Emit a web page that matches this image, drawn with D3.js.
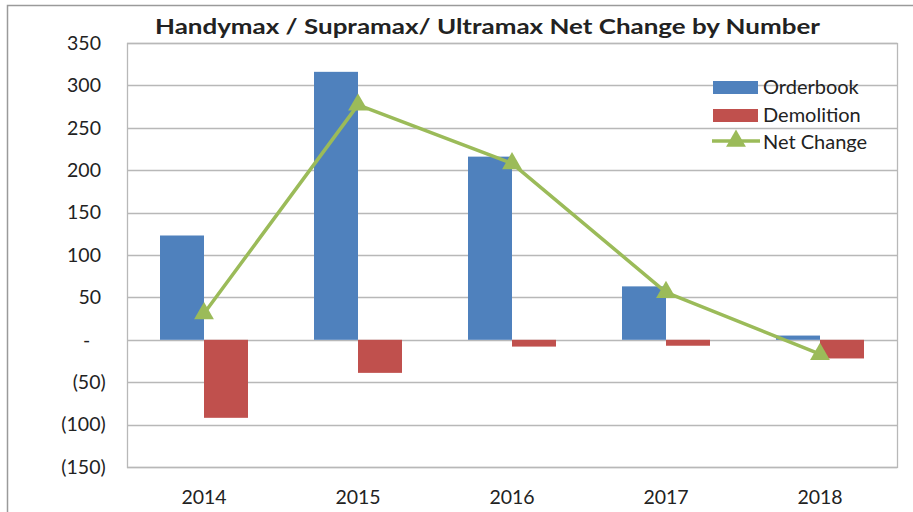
<!DOCTYPE html>
<html><head><meta charset="utf-8">
<script src="https://cdnjs.cloudflare.com/ajax/libs/d3/7.8.5/d3.min.js"></script>
<style>body{margin:0;background:#fff}svg{display:block}text{font-family:Lato,"Open Sans",sans-serif;fill:#222}</style>
</head><body><svg id="c" width="913" height="512"></svg>
<script>
const categories = ["2014","2015","2016","2017","2018"];
const orderbook = [123, 316, 216, 63, 5];
const demolition = [-92, -39, -8, -7, -22];
const netChange = [31, 277, 208, 56, -17];
const yTicks = [350,300,250,200,150,100,50,0,-50,-100,-150];
const seriesNames = ["Orderbook","Demolition","Net Change"];
const colors = {ob:"#4F81BD", dm:"#C0504D", nc:"#9BBB59"};

const svg = d3.select("#c");
const L=127, R=897, T=43, B=467;
// outer frame
svg.append("path").attr("d","M7.5,512 V5.5 H913").attr("fill","none").attr("stroke","#9a9a9a").attr("stroke-width",1.5);

const x = d3.scaleBand().domain(categories).range([L,R]);
const y = d3.scaleLinear().domain([-150,350]).range([B,T]);
const bw = 44;

// gridlines
svg.append("g").selectAll("line").data(yTicks).join("line")
  .attr("x1",L).attr("x2",R).attr("y1",d=>Math.round(y(d))+0.5).attr("y2",d=>Math.round(y(d))+0.5)
  .attr("stroke","#b8b8b8").attr("stroke-width",1.3);
// plot border
svg.append("rect").attr("x",L+0.5).attr("y",Math.round(T)+0.5).attr("width",R-L).attr("height",B-T)
  .attr("fill","none").attr("stroke","#b8b8b8").attr("stroke-width",1.3);

// y axis
const fmt = d => d===0 ? "-" : d<0 ? "("+(-d)+")" : String(d);
const ya = svg.append("g").attr("transform",`translate(${L},0)`)
  .call(d3.axisLeft(y).tickValues(yTicks).tickFormat(fmt).tickSize(0).tickPadding(26));
ya.select(".domain").remove();
ya.selectAll("text").style("font-size","19.5px").attr("fill","#222").style("font-family","Lato,sans-serif")
  .attr("dx", d=> d<0 ? "0.24em" : d===0 ? "-0.55em" : "0");

// x axis
const xa = svg.append("g").attr("transform",`translate(0,${B})`)
  .call(d3.axisBottom(x).tickSize(0).tickPadding(23));
xa.select(".domain").remove();
xa.selectAll("text").style("font-size","19.5px").attr("fill","#222").style("font-family","Lato,sans-serif");

// bars
const cx = c => x(c) + x.bandwidth()/2;
svg.append("g").selectAll("rect").data(categories).join("rect")
  .attr("x",(c)=>cx(c)-bw).attr("width",bw)
  .attr("y",(c,i)=>y(Math.max(0,orderbook[i]))).attr("height",(c,i)=>Math.abs(y(orderbook[i])-y(0)))
  .attr("fill",colors.ob);
svg.append("g").selectAll("rect").data(categories).join("rect")
  .attr("x",(c)=>cx(c)).attr("width",bw)
  .attr("y",(c,i)=>y(Math.max(0,demolition[i]))).attr("height",(c,i)=>Math.abs(y(demolition[i])-y(0)))
  .attr("fill",colors.dm);

// line
const line = d3.line().x((d,i)=>cx(categories[i])).y(d=>y(d));
svg.append("path").datum(netChange).attr("d",line).attr("fill","none")
  .attr("stroke",colors.nc).attr("stroke-width",3.5).attr("stroke-linejoin","round");
const tri = d3.symbol().type(d3.symbolTriangle).size(170);
svg.append("g").selectAll("path").data(netChange).join("path")
  .attr("d",tri).attr("transform",(d,i)=>`translate(${cx(categories[i])},${y(d)})`).attr("fill",colors.nc);

// title
svg.append("text").attr("x",487.5).attr("y",34).attr("text-anchor","middle")
  .attr("textLength",665).attr("lengthAdjust","spacingAndGlyphs")
  .style("font-size","21px").style("font-weight","bold").text("Handymax / Supramax/ Ultramax Net Change by Number");

// legend
const lg = svg.append("g");
const ly = [87.5, 115.5, 141];
lg.append("rect").attr("x",713).attr("y",ly[0]-6.5).attr("width",45).attr("height",13).attr("fill",colors.ob);
lg.append("rect").attr("x",713).attr("y",ly[1]-6.5).attr("width",45).attr("height",13).attr("fill",colors.dm);
lg.append("line").attr("x1",712).attr("x2",760).attr("y1",ly[2]).attr("y2",ly[2]).attr("stroke",colors.nc).attr("stroke-width",3.5);
lg.append("path").attr("d",tri).attr("transform",`translate(736,${ly[2]})`).attr("fill",colors.nc);
const lw = [104, 104, 110];
lg.selectAll("text").data(seriesNames).join("text")
  .attr("x",763).attr("y",(d,i)=>[94,122,149][i])
  .style("font-size","20px").text(d=>d);
</script></body></html>
